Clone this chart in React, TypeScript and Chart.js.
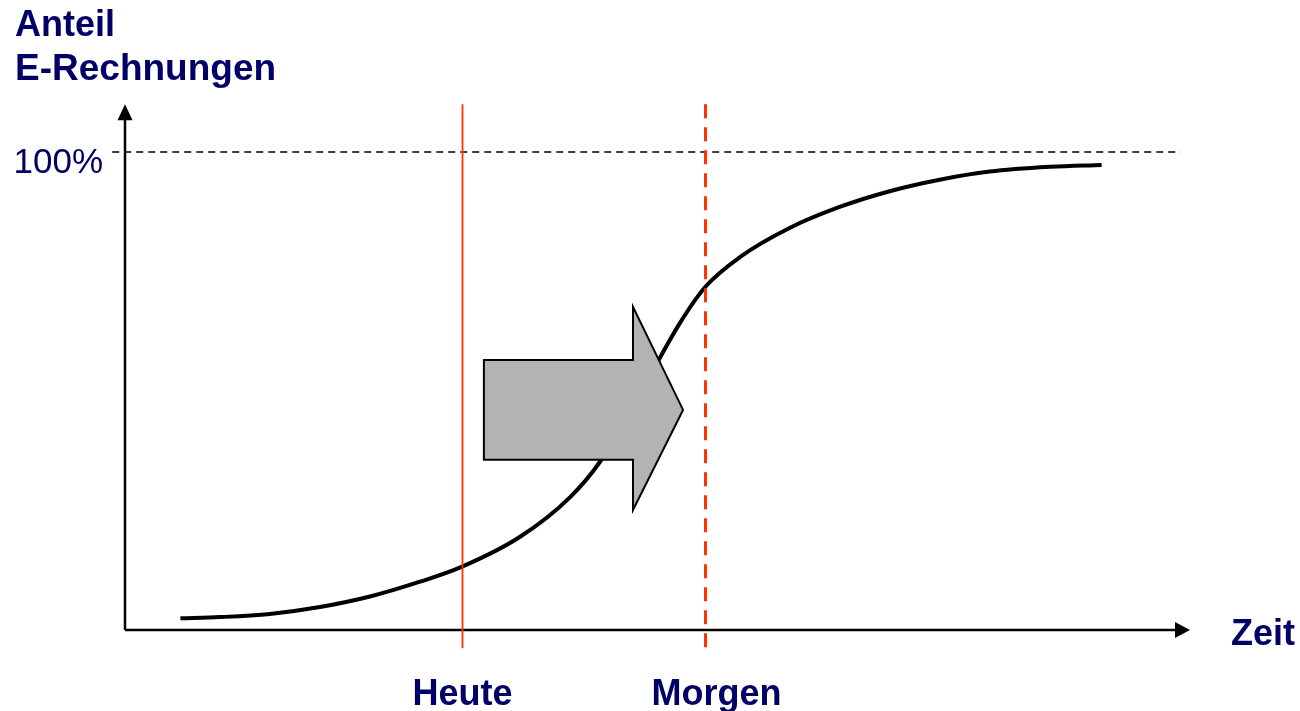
import React, { useEffect, useRef } from "react";
import { Chart, registerables } from "chart.js";

Chart.register(...registerables);

// S-curve: time (0..100 along the x axis) vs. share of e-invoices (%)
const timePoints = [5.2, 8.9, 13.6, 18.3, 23.0, 27.7, 31.6, 37.1, 41.8, 44.6, 48.4, 52.1, 54.5, 57.8, 62.4, 67.1, 71.8, 76.5, 81.2, 86.9, 91.7];
const sharePoints = [2.45, 2.7, 3.35, 4.8, 7.0, 10.1, 13.2, 19.5, 27.8, 35.2, 49.6, 64.2, 71.8, 78.1, 84.1, 88.5, 91.8, 94.2, 95.9, 96.9, 97.3];

// Vertical markers
const markerLabels = ["Heute", "Morgen"];
const markerTimes = [31.6, 54.5];

// Axis texts
const yTitleLines = ["Anteil", "E-Rechnungen"];
const xTitle = "Zeit";
const yTickLabel = "100%";
const yTickValue = 100;

// Axis extents (data units)
const xAxisEnd = 100;
const yAxisEnd = 110;
const refLineRange = [-1.2, 99.1];
const markerRange = [-3.8, 110];

// Block arrow (data units): body start, head base, tip
const arrowX = [33.7, 47.7, 52.4];
const arrowBodyY = [35.6, 56.5];
const arrowHeadY = [25.1, 67.6];

const NAVY = "#000066";
const RED = "#FF3300";
const FONT = "'Liberation Sans', Arial, Helvetica, sans-serif";

export default function App() {
  const ref = useRef<HTMLCanvasElement>(null);

  useEffect(() => {
    const canvas = ref.current!;
    const overlay = {
      id: "overlay",
      beforeDatasetsDraw(chart: any) {
        const { ctx } = chart;
        const xs = chart.scales.x;
        const ys = chart.scales.y;
        const x0 = xs.getPixelForValue(0);
        const y0 = ys.getPixelForValue(0);
        const xEnd = xs.getPixelForValue(xAxisEnd);
        const yEnd = ys.getPixelForValue(yAxisEnd);
        ctx.save();
        // 100% reference line
        const yRef = ys.getPixelForValue(yTickValue);
        ctx.strokeStyle = "#000";
        ctx.lineWidth = 1.5;
        ctx.setLineDash([7, 5]);
        ctx.beginPath();
        ctx.moveTo(xs.getPixelForValue(refLineRange[0]), yRef);
        ctx.lineTo(xs.getPixelForValue(refLineRange[1]), yRef);
        ctx.stroke();
        ctx.setLineDash([]);
        // axes
        ctx.lineWidth = 2.5;
        ctx.strokeStyle = "#000";
        ctx.beginPath();
        ctx.moveTo(x0, y0);
        ctx.lineTo(x0, yEnd + 12);
        ctx.moveTo(x0, y0);
        ctx.lineTo(xEnd - 12, y0);
        ctx.stroke();
        ctx.fillStyle = "#000";
        ctx.beginPath();
        ctx.moveTo(x0, yEnd);
        ctx.lineTo(x0 - 7.5, yEnd + 16);
        ctx.lineTo(x0 + 7.5, yEnd + 16);
        ctx.closePath();
        ctx.fill();
        ctx.beginPath();
        ctx.moveTo(xEnd, y0);
        ctx.lineTo(xEnd - 15, y0 - 8);
        ctx.lineTo(xEnd - 15, y0 + 8);
        ctx.closePath();
        ctx.fill();
        ctx.restore();
      },
      afterDatasetsDraw(chart: any) {
        const { ctx } = chart;
        const xs = chart.scales.x;
        const ys = chart.scales.y;
        ctx.save();
        // marker lines
        markerTimes.forEach((t, i) => {
          const px = Math.round(xs.getPixelForValue(t)) + 0.5;
          ctx.strokeStyle = RED;
          if (i === 0) {
            ctx.lineWidth = 1.8;
            ctx.setLineDash([]);
          } else {
            ctx.lineWidth = 3;
            ctx.setLineDash([14, 9]);
          }
          ctx.beginPath();
          ctx.moveTo(px, ys.getPixelForValue(markerRange[1]));
          ctx.lineTo(px, ys.getPixelForValue(markerRange[0]));
          ctx.stroke();
        });
        ctx.setLineDash([]);
        // block arrow
        const bx = xs.getPixelForValue(arrowX[0]);
        const hx = xs.getPixelForValue(arrowX[1]);
        const tx = xs.getPixelForValue(arrowX[2]);
        const bTop = ys.getPixelForValue(arrowBodyY[1]);
        const bBot = ys.getPixelForValue(arrowBodyY[0]);
        const hTop = ys.getPixelForValue(arrowHeadY[1]);
        const hBot = ys.getPixelForValue(arrowHeadY[0]);
        const tY = (bTop + bBot) / 2;
        ctx.beginPath();
        ctx.moveTo(bx, bTop);
        ctx.lineTo(hx, bTop);
        ctx.lineTo(hx, hTop);
        ctx.lineTo(tx, tY);
        ctx.lineTo(hx, hBot);
        ctx.lineTo(hx, bBot);
        ctx.lineTo(bx, bBot);
        ctx.closePath();
        ctx.fillStyle = "#B3B3B3";
        ctx.fill();
        ctx.strokeStyle = "#000";
        ctx.lineWidth = 2;
        ctx.lineJoin = "miter";
        ctx.stroke();
        // texts
        ctx.fillStyle = NAVY;
        ctx.textBaseline = "alphabetic";
        ctx.font = `bold 36px ${FONT}`;
        ctx.textAlign = "left";
        ctx.fillText(yTitleLines[0], 15, 36);
        ctx.font = `bold 37px ${FONT}`;
        ctx.fillText(yTitleLines[1], 15, 80);
        ctx.font = `bold 36px ${FONT}`;
        ctx.fillText(xTitle, 1231, 645);
        ctx.textAlign = "center";
        const offsets = [1, 11];
        markerTimes.forEach((t, i) => {
          ctx.fillText(markerLabels[i], xs.getPixelForValue(t) + offsets[i], 705);
        });
        ctx.font = `35px ${FONT}`;
        ctx.textAlign = "right";
        ctx.fillText(yTickLabel, 103, ys.getPixelForValue(yTickValue) + 21);
        ctx.restore();
      },
    };

    const chart = new Chart(canvas, {
      type: "line",
      data: {
        datasets: [
          {
            data: timePoints.map((t, i) => ({ x: t, y: sharePoints[i] })),
            borderColor: "#000",
            borderWidth: 4,
            pointRadius: 0,
            cubicInterpolationMode: "monotone",
            fill: false,
          },
        ],
      },
      options: {
        responsive: false,
        animation: false,
        events: [],
        layout: { padding: { left: 125, right: 110, top: 152, bottom: 81 } },
        scales: {
          x: { type: "linear", min: 0, max: 100, display: false },
          y: { type: "linear", min: 0, max: 100, display: false },
        },
        plugins: { legend: { display: false }, tooltip: { enabled: false } },
      },
      plugins: [overlay],
    } as any);
    return () => chart.destroy();
  }, []);

  return (
    <div style={{ position: "fixed", left: 0, top: 0, width: 1300, height: 711, background: "#fff" }}>
      <canvas ref={ref} width={1300} height={711} style={{ display: "block" }} />
    </div>
  );
}
